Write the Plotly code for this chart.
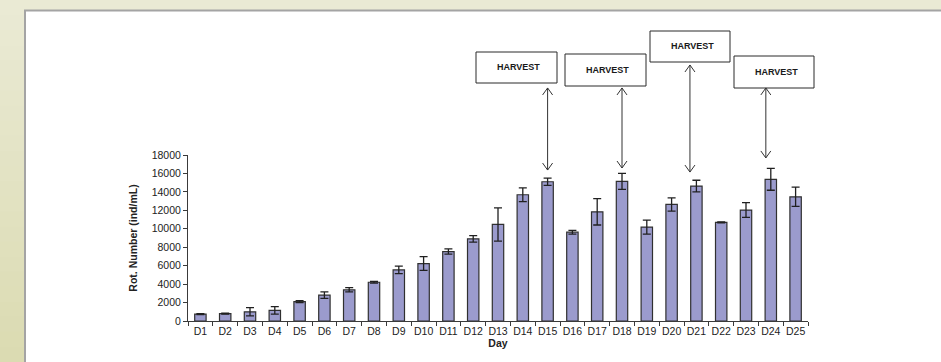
import plotly.graph_objects as go

# Daily rotifer density (mean and standard deviation)
days = ["D1", "D2", "D3", "D4", "D5", "D6", "D7", "D8", "D9", "D10",
        "D11", "D12", "D13", "D14", "D15", "D16", "D17", "D18", "D19", "D20",
        "D21", "D22", "D23", "D24", "D25"]
density_mean = [750, 800, 1000, 1150, 2100, 2800, 3380, 4200, 5540, 6230,
                7530, 8910, 10470, 13690, 15100, 9630, 11840, 15140, 10180, 12640,
                14630, 10690, 12030, 15360, 13470]
density_sd = [60, 50, 450, 400, 100, 350, 230, 100, 400, 750,
              280, 350, 1800, 750, 400, 200, 1430, 870, 760, 720,
              630, 50, 800, 1180, 1050]
harvest_days = ["D15", "D18", "D21", "D24"]
y_ticks = [0, 2000, 4000, 6000, 8000, 10000, 12000, 14000, 16000, 18000]

W, H = 941, 362
ML, MR, MT, MB = 188, 133, 155, 41
PW, PH = W - ML - MR, H - MT - MB
Y_MAX = 18000


def xp(px):
    return (px - ML) / PW


def yp(py):
    return (H - MB - py) / PH


def cat_px(i):
    """Pixel centre of category slot i on the x axis."""
    return ML + (i + 0.5) * PW / len(days)


def val_py(v):
    """Pixel row of value v on the y axis."""
    return H - MB - v / Y_MAX * PH


FONT = "Liberation Sans, Arial, sans-serif"

fig = go.Figure()
fig.add_trace(go.Bar(
    x=days, y=density_mean,
    marker=dict(color="#9b9bcd", line=dict(color="#303030", width=1.2)),
    error_y=dict(type="data", array=density_sd, visible=True,
                 color="#202020", thickness=1.3, width=4),
    showlegend=False,
))

shapes = []
# page background with a soft vertical tint
top_c = (234, 234, 212)
bot_c = (219, 219, 178)
n_bands = 24
for i in range(n_bands):
    t = i / (n_bands - 1)
    c = tuple(round(top_c[k] + (bot_c[k] - top_c[k]) * t) for k in range(3))
    y0 = i * H / n_bands
    y1 = (i + 1) * H / n_bands + 1
    shapes.append(dict(type="rect", xref="paper", yref="paper", layer="below",
                       x0=xp(-5), x1=xp(W + 5), y0=yp(y1), y1=yp(y0),
                       fillcolor="rgb(%d,%d,%d)" % c, line=dict(width=0)))
# white sheet
shapes.append(dict(type="rect", xref="paper", yref="paper", layer="below",
                   x0=xp(25), x1=xp(W + 10), y0=yp(H + 10), y1=yp(10.5),
                   fillcolor="white", line=dict(color="#a4a4a4", width=2)))

# HARVEST boxes (pixel rectangles on the sheet)
boxes = [(476, 52, 557, 83), (565, 54, 646, 86), (650, 31, 730, 62), (734, 56, 814, 88)]
annotations = []
for (x0, y0, x1, y1) in boxes:
    shapes.append(dict(type="rect", xref="paper", yref="paper",
                       x0=xp(x0), x1=xp(x1), y0=yp(y1), y1=yp(y0),
                       fillcolor="white", line=dict(color="#2a2a2a", width=1)))
    annotations.append(dict(xref="paper", yref="paper",
                            x=xp((x0 + x1) / 2 + 2), y=yp((y0 + y1) / 2 - 0.5),
                            xanchor="center", yanchor="middle",
                            text="<b>HARVEST</b>", showarrow=False,
                            font=dict(family=FONT, size=9, color="#1a1a1a")))

# double-headed arrows (open V heads) linking each box to its harvest day
arrow_dx = [0.0, 0.0, -0.26, -0.2]
arrow_tip = [16370, 16590, 16150, 17680]
arrow_tail = [25270, 25270, 27760, 25270]
HW, HL = 5, 7  # arrowhead half-width and length, px
for d, dx, tip, tail in zip(harvest_days, arrow_dx, arrow_tip, arrow_tail):
    ax = cat_px(days.index(d) + dx)
    yb, yt = val_py(tip), val_py(tail)
    pts = [
        [(ax, yt), (ax, yb)],
        [(ax - HW, yb - HL), (ax, yb), (ax + HW, yb - HL)],
        [(ax - HW, yt + HL), (ax, yt), (ax + HW, yt + HL)],
    ]
    path = ""
    for seg in pts:
        path += "M" + " L".join("%.5f,%.5f" % (xp(px), yp(py)) for px, py in seg) + " "
    shapes.append(dict(type="path", xref="paper", yref="paper", path=path.strip(),
                       line=dict(color="#333333", width=1)))

fig.update_layout(
    width=W, height=H,
    margin=dict(l=ML, r=MR, t=MT, b=MB, pad=0),
    paper_bgcolor="rgb(234,234,212)",
    plot_bgcolor="white",
    bargap=0.54,
    shapes=shapes,
    annotations=annotations,
    font=dict(family=FONT, size=11, color="#222222"),
    xaxis=dict(
        type="category", range=[-0.5, len(days) - 0.5],
        showline=True, linecolor="#3a3a3a", linewidth=1,
        ticks="outside", tickson="boundaries", ticklen=4, tickcolor="#3a3a3a",
        showgrid=False, zeroline=False, tickangle=0,
        tickfont=dict(family=FONT, size=10.5, color="#222222"),
        title=dict(text="<b>Day</b>", font=dict(family=FONT, size=10.5, color="#222222"),
                   standoff=3),
    ),
    yaxis=dict(
        range=[0, Y_MAX], tickvals=y_ticks, tickformat="d",
        showline=True, linecolor="#3a3a3a", linewidth=1,
        ticks="outside", ticklen=4, tickcolor="#3a3a3a",
        showgrid=False, zeroline=False,
        tickfont=dict(family=FONT, size=10.5, color="#222222"),
        title=dict(text="<b>Rot. Number (ind/mL)</b>",
                   font=dict(family=FONT, size=10.5, color="#222222"), standoff=12),
    ),
)

fig.write_html("out.html")
